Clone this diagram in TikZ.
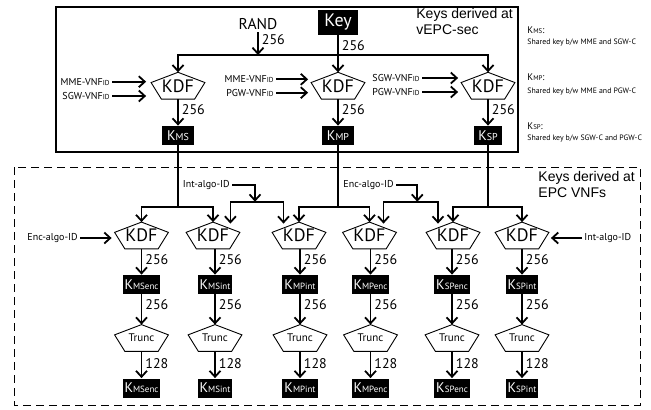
\documentclass[tikz,border=0pt]{standalone}
\usepackage{fontspec}
\setmainfont{PT Sans}
\newfontfamily\arialfont{Liberation Sans}
\usetikzlibrary{arrows.meta, positioning, calc}

\newcommand{\kname}[2][5]{K{\fontsize{#1}{#1}\selectfont #2}}
\newcommand{\vnfid}[1]{#1-VNF{\fontsize{3.6}{4}\selectfont ID}}

\begin{document}
\begin{tikzpicture}[
    x=0.5pt, y=-0.5pt,
    font=\fontsize{5}{6}\selectfont,
    kdf/.style={minimum width=26.5pt, minimum height=13pt, inner sep=0pt,
                font=\fontsize{9}{9}\selectfont,
                append after command={\pgfextra{\draw[line width=0.45pt]
                  (\tikzlastnode.north)
                  -- ($(\tikzlastnode.north west)!0.382!(\tikzlastnode.south west)$)
                  -- ($(\tikzlastnode.south west)!0.191!(\tikzlastnode.south east)$)
                  -- ($(\tikzlastnode.south east)!0.191!(\tikzlastnode.south west)$)
                  -- ($(\tikzlastnode.north east)!0.382!(\tikzlastnode.south east)$)
                  -- cycle;}}},
    trunc/.style={kdf, font=\fontsize{5.5}{6}\selectfont},
    kbox/.style={fill=black, text=white, inner sep=1pt, minimum height=9.5pt,
                 minimum width=16pt, font=\fontsize{7}{7}\selectfont},
    inp/.style={inner sep=1pt, font=\fontsize{5}{6}\selectfont},
    bits/.style={right, inner sep=1.5pt, font=\fontsize{7}{7}\selectfont},
    title/.style={font=\arialfont\fontsize{7}{8.2}\selectfont, align=left,
                  anchor=north west, inner sep=0pt},
    legk/.style={anchor=west, inner sep=0pt, font=\fontsize{4.8}{5}\selectfont},
    legd/.style={anchor=west, inner sep=0pt, font=\fontsize{3.9}{4}\selectfont},
    arr/.style={-{Straight Barb[length=3pt, width=5.5pt]}, line width=0.9pt},
    wire/.style={line width=0.9pt},
]
    \useasboundingbox (0,0) rectangle (651,409);

    %==================== vEPC-sec ====================
    \draw[line width=0.6pt] (56,7) rectangle (518,152);
    \node[title] (ttop) at (416,8) {Keys derived at\\vEPC-sec};

    \node[inner sep=1pt, font=\fontsize{7.8}{8}\selectfont] (rand) at (258,24) {RAND};
    \node[kbox, minimum width=20pt, minimum height=12.5pt,
          font=\fontsize{9}{9}\selectfont] (key) at (338,22.5) {Key};
    \coordinate (rj) at (258,55);

    \node[kdf] (kdf1) at (178,85.7) {KDF};
    \node[kdf] (kdf2) at (338,85.7) {KDF};
    \node[kdf] (kdf3) at (488,85.7) {KDF};

    \draw[arr] (rand) -- node[bits, pos=0.35] {256} (rj);
    \draw[arr] (rj) -| (kdf1);
    \draw[arr] (rj) -| (kdf3);
    \draw[arr] (key) -- node[bits, pos=0.27] {256} (kdf2);

    % inputs
    \node[inp, anchor=east] (mme1) at (112,81.7) {\vnfid{MME}};
    \node[inp, anchor=east] (sgw1) at (112,96) {\vnfid{SGW}};
    \node[inp, anchor=east] (mme2) at (276,79.3) {\vnfid{MME}};
    \node[inp, anchor=east] (pgw2) at (276,92.7) {\vnfid{PGW}};
    \node[inp, anchor=east] (sgw3) at (422,78) {\vnfid{SGW}};
    \node[inp, anchor=east] (pgw3) at (422,92) {\vnfid{PGW}};
    \draw[arr, shorten >=2.5pt] (mme1) -- (mme1 -| kdf1.west);
    \draw[arr, shorten >=2.5pt] (sgw1) -- (sgw1 -| kdf1.west);
    \draw[arr, shorten >=1.5pt] (mme2) -- (mme2 -| kdf2.west);
    \draw[arr, shorten >=1.5pt] (pgw2) -- (pgw2 -| kdf2.west);
    \draw[arr, shorten >=1.5pt] (sgw3) -- (sgw3 -| kdf3.west);
    \draw[arr, shorten >=1.5pt] (pgw3) -- (pgw3 -| kdf3.west);

    \node[kbox] (kms) at (178,135.5) {\kname{MS}};
    \node[kbox] (kmp) at (338,135.5) {\kname{MP}};
    \node[kbox, minimum width=14pt] (ksp) at (488,135.5) {\kname{SP}};
    \draw[arr] (kdf1) -- node[bits, pos=0.4] {256} (kms);
    \draw[arr] (kdf2) -- node[bits, pos=0.4] {256} (kmp);
    \draw[arr] (kdf3) -- node[bits, pos=0.4] {256} (ksp);

    % legend
    \node[legk] (lgms) at (527,30) {\kname[3.4]{MS}:};
    \node[legd] (lgmsd) at (527,43) {Shared key b/w MME and SGW-C};
    \node[legk] (lgmp) at (527,77) {\kname[3.4]{MP}:};
    \node[legd] (lgmpd) at (527,92) {Shared key b/w MME and PGW-C};
    \node[legk] (lgsp) at (527,126) {\kname[3.4]{SP}:};
    \node[legd] (lgspd) at (527,139) {Shared key b/w SGW-C and PGW-C};

    %==================== EPC VNFs ====================
    \draw[line width=0.5pt, dash pattern=on 4pt off 2.5pt] (14,167) rectangle (640,405);
    \node[title] (tlow) at (538,171) {Keys derived at\\EPC VNFs};

    \coordinate (jms) at (178,206.7);
    \coordinate (jmp) at (338,206.7);
    \coordinate (jsp) at (488,206.7);

    \node[kdf] (kdfa) at (141.5,235.5) {KDF};
    \node[kdf] (kdfb) at (213,235.5) {KDF};
    \node[kdf] (kdfc) at (299,235.5) {KDF};
    \node[kdf] (kdfd) at (369.5,235.5) {KDF};
    \node[kdf] (kdfe) at (453,235.5) {KDF};
    \node[kdf] (kdff) at (522,235.5) {KDF};

    \draw[wire] (kms) -- (jms);
    \draw[arr] (jms) -| (kdfa);
    \draw[arr] (jms) -| (kdfb);
    \draw[wire] (kmp) -- (jmp);
    \draw[arr] (jmp) -| (kdfc);
    \draw[arr] (jmp) -| (kdfd);
    \draw[wire] (ksp) -- (jsp);
    \draw[arr] (jsp) -| (kdfe);
    \draw[arr] (jsp) -| (kdff);

    % algorithm ids
    \node[inp, anchor=east] (intm) at (232,185) {Int-algo-ID};
    \coordinate (ji) at (255,201.7);
    \draw[arr] (intm) -| (ji);
    \draw[arr] (ji) -| ([shift={(-9.5,1.5)}]kdfb.north east);
    \draw[arr] (ji) -| ([shift={(-15.5,1.5)}]kdfc.north);

    \node[inp, anchor=east] (encm) at (396,185) {Enc-algo-ID};
    \coordinate (je) at (417.3,201.7);
    \draw[arr] (encm) -| (je);
    \draw[arr] (je) -| ([shift={(14,1.5)}]kdfd.north);
    \draw[arr] (je) -| ([shift={(-15,1.5)}]kdfe.north);

    \node[inp, anchor=east] (encl) at (80,238) {Enc-algo-ID};
    \draw[arr, shorten >=1.5pt] (encl) -- (encl -| kdfa.west);
    \node[inp, anchor=west] (intr) at (582,238) {Int-algo-ID};
    \draw[arr, shorten >=1pt] (intr) -- (intr -| kdff.east);

    % derived keys
    \node[kbox] (kmsenc) at (141.5,284.5) {\kname[4.5]{MSenc}};
    \node[kbox] (kmsint) at (215,284.5) {\kname[4.5]{MSint}};
    \node[kbox] (kmpint) at (300,284.5) {\kname[4.5]{MPint}};
    \node[kbox] (kmpenc) at (370.5,284.5) {\kname[4.5]{MPenc}};
    \node[kbox] (kspenc) at (452,284.5) {\kname[4.5]{SPenc}};
    \node[kbox] (kspint) at (522,284.5) {\kname[4.5]{SPint}};
    \draw[arr] (kdfa) -- node[bits, pos=0.4] {256} (kmsenc);
    \draw[arr] (kdfb.south -| kmsint) -- node[bits, pos=0.4] {256} (kmsint);
    \draw[arr] (kdfc.south -| kmpint) -- node[bits, pos=0.4] {256} (kmpint);
    \draw[arr] (kdfd.south -| kmpenc) -- node[bits, pos=0.4] {256} (kmpenc);
    \draw[arr] (kdfe.south -| kspenc) -- node[bits, pos=0.4] {256} (kspenc);
    \draw[arr] (kdff) -- node[bits, pos=0.4] {256} (kspint);

    % truncation
    \node[trunc] (tra) at (141.5,338) {Trunc};
    \node[trunc] (trb) at (215,338) {Trunc};
    \node[trunc] (trc) at (300,338) {Trunc};
    \node[trunc] (trd) at (370.5,338) {Trunc};
    \node[trunc] (tre) at (452,338) {Trunc};
    \node[trunc] (trf) at (522,338) {Trunc};
    \draw[arr] (kmsenc) -- node[bits, pos=0.35] {256} (tra);
    \draw[arr] (kmsint) -- node[bits, pos=0.35] {256} (trb);
    \draw[arr] (kmpint) -- node[bits, pos=0.35] {256} (trc);
    \draw[arr] (kmpenc) -- node[bits, pos=0.35] {256} (trd);
    \draw[arr] (kspenc) -- node[bits, pos=0.35] {256} (tre);
    \draw[arr] (kspint) -- node[bits, pos=0.35] {256} (trf);

    \node[kbox] (omsenc) at (141.5,388) {\kname[4.5]{MSenc}};
    \node[kbox] (omsint) at (215,388) {\kname[4.5]{MSint}};
    \node[kbox] (ompint) at (300,388) {\kname[4.5]{MPint}};
    \node[kbox] (ompenc) at (370.5,388) {\kname[4.5]{MPenc}};
    \node[kbox] (ospenc) at (452,388) {\kname[4.5]{SPenc}};
    \node[kbox] (ospint) at (522,388) {\kname[4.5]{SPint}};
    \draw[arr] (tra) -- node[bits, pos=0.45] {128} (omsenc);
    \draw[arr] (trb) -- node[bits, pos=0.45] {128} (omsint);
    \draw[arr] (trc) -- node[bits, pos=0.45] {128} (ompint);
    \draw[arr] (trd) -- node[bits, pos=0.45] {128} (ompenc);
    \draw[arr] (tre) -- node[bits, pos=0.45] {128} (ospenc);
    \draw[arr] (trf) -- node[bits, pos=0.45] {128} (ospint);

\end{tikzpicture}
\end{document}
